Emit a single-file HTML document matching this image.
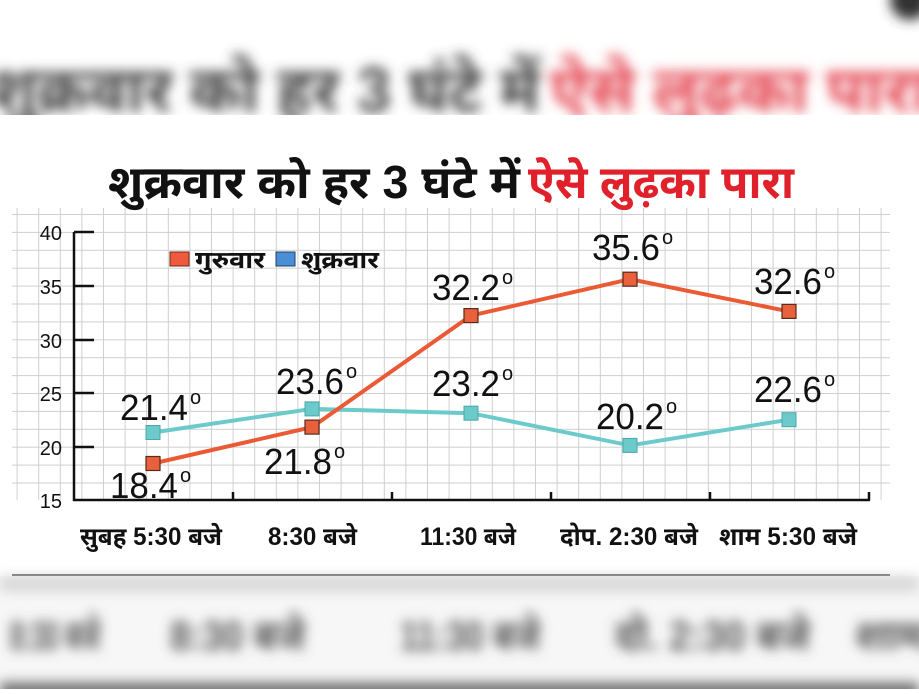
<!DOCTYPE html>
<html><head><meta charset="utf-8"><style>
body{margin:0;width:919px;height:689px;overflow:hidden;background:#fff;font-family:"Liberation Sans","Noto Sans Devanagari","Lohit Devanagari",sans-serif}
</style></head><body>
<svg width="919" height="689" viewBox="0 0 919 689" xmlns="http://www.w3.org/2000/svg">
<defs>
<filter id="bl"><feGaussianBlur stdDeviation="6"/></filter>
<pattern id="gv" x="16.6" y="0" width="21.6" height="2000" patternUnits="userSpaceOnUse"><line x1="0.5" y1="0" x2="0.5" y2="2000" stroke="#cfcfcf" stroke-width="1"/></pattern>
<pattern id="gh" x="0" y="214" width="2000" height="17.9" patternUnits="userSpaceOnUse"><line x1="0" y1="0.5" x2="2000" y2="0.5" stroke="#cfcfcf" stroke-width="1"/></pattern>
</defs>
<!-- top blurred band -->
<g filter="url(#bl)">
<text x="-10" y="112" font-size="64" font-weight="bold" fill="#444" textLength="550" lengthAdjust="spacingAndGlyphs">शुक्रवार को हर 3 घंटे में</text>
<text x="550" y="112" font-size="64" font-weight="bold" fill="#e44a55" textLength="380" lengthAdjust="spacingAndGlyphs">ऐसे लुढ़का पारा</text>
<circle cx="910" cy="0" r="20" fill="#333"/>
</g>
<rect x="0" y="115" width="919" height="460" fill="#fff"/>
<!-- grid -->
<rect x="12" y="208" width="878" height="292" fill="url(#gv)"/>
<rect x="12" y="208" width="878" height="292" fill="url(#gh)"/>
<!-- title -->
<text x="108" y="198" font-size="46" font-weight="bold" fill="#111" textLength="412" lengthAdjust="spacingAndGlyphs">शुक्रवार को हर 3 घंटे में</text>
<text x="528" y="198" font-size="46" font-weight="bold" fill="#e0202a" textLength="266" lengthAdjust="spacingAndGlyphs">ऐसे लुढ़का पारा</text>
<!-- axes -->
<g stroke="#111" stroke-width="2.5" fill="none">
<line x1="74" y1="232" x2="74" y2="501"/>
<line x1="73" y1="500" x2="870" y2="500"/>
<line x1="74" y1="232" x2="94" y2="232"/>
<line x1="74" y1="286" x2="94" y2="286"/>
<line x1="74" y1="340" x2="94" y2="340"/>
<line x1="74" y1="393" x2="94" y2="393"/>
<line x1="74" y1="447" x2="94" y2="447"/>
<line x1="233" y1="500" x2="233" y2="492"/>
<line x1="392" y1="500" x2="392" y2="492"/>
<line x1="551" y1="500" x2="551" y2="492"/>
<line x1="710" y1="500" x2="710" y2="492"/>
<line x1="869" y1="500" x2="869" y2="492"/>
</g>
<g font-size="20" fill="#111" text-anchor="end">
<text x="62" y="240">40</text><text x="62" y="294">35</text><text x="62" y="348">30</text>
<text x="62" y="401">25</text><text x="62" y="455">20</text><text x="62" y="508">15</text>
</g>
<!-- legend -->
<rect x="170" y="252" width="19" height="14" fill="#f05a3c" stroke="#6b2a1a"/>
<text x="195" y="268" font-size="24" font-weight="bold" fill="#111" textLength="70" lengthAdjust="spacingAndGlyphs">गुरुवार</text>
<rect x="276" y="252" width="19" height="14" fill="#4a8fd6" stroke="#1e3f6a"/>
<text x="301" y="268" font-size="24" font-weight="bold" fill="#111" textLength="78" lengthAdjust="spacingAndGlyphs">शुक्रवार</text>
<!-- series -->
<polyline points="153,432.5 312,408.9 471,413.2 630,445.4 789,419.7" fill="none" stroke="#6ccaca" stroke-width="4"/>
<polyline points="153,463.5 312,427.1 471,315.6 630,279.2 789,311.4" fill="none" stroke="#ea5a35" stroke-width="4"/>
<g fill="#6ccaca" stroke="#4aa8a8" stroke-width="1">
<rect x="146" y="425.5" width="14" height="14"/><rect x="305" y="401.9" width="14" height="14"/>
<rect x="464" y="406.2" width="14" height="14"/><rect x="623" y="438.4" width="14" height="14"/>
<rect x="782" y="412.7" width="14" height="14"/>
</g>
<g fill="#e8603c" stroke="#5a2a1a" stroke-width="1.2">
<rect x="146" y="456.5" width="14" height="14"/><rect x="305" y="420.1" width="14" height="14"/>
<rect x="464" y="308.6" width="14" height="14"/><rect x="623" y="272.2" width="14" height="14"/>
<rect x="782" y="304.4" width="14" height="14"/>
</g>
<g font-size="36" fill="#111">
<text x="120" y="420" textLength="68" lengthAdjust="spacingAndGlyphs">21.4</text><text x="190" y="404" font-size="20">o</text>
<text x="276" y="394" textLength="68" lengthAdjust="spacingAndGlyphs">23.6</text><text x="346" y="378" font-size="20">o</text>
<text x="432" y="396" textLength="68" lengthAdjust="spacingAndGlyphs">23.2</text><text x="502" y="380" font-size="20">o</text>
<text x="596" y="429" textLength="68" lengthAdjust="spacingAndGlyphs">20.2</text><text x="666" y="413" font-size="20">o</text>
<text x="754" y="402" textLength="68" lengthAdjust="spacingAndGlyphs">22.6</text><text x="824" y="386" font-size="20">o</text>
<text x="110" y="498" textLength="68" lengthAdjust="spacingAndGlyphs">18.4</text><text x="180" y="482" font-size="20">o</text>
<text x="264" y="474" textLength="68" lengthAdjust="spacingAndGlyphs">21.8</text><text x="334" y="458" font-size="20">o</text>
<text x="432" y="300" textLength="68" lengthAdjust="spacingAndGlyphs">32.2</text><text x="502" y="284" font-size="20">o</text>
<text x="592" y="260" textLength="68" lengthAdjust="spacingAndGlyphs">35.6</text><text x="662" y="244" font-size="20">o</text>
<text x="754" y="294" textLength="68" lengthAdjust="spacingAndGlyphs">32.6</text><text x="824" y="278" font-size="20">o</text>
</g>
<g font-size="25" font-weight="bold" fill="#111">
<text x="80" y="545" textLength="142" lengthAdjust="spacingAndGlyphs">सुबह 5:30 बजे</text>
<text x="268" y="545" textLength="89" lengthAdjust="spacingAndGlyphs">8:30 बजे</text>
<text x="420" y="545" textLength="96" lengthAdjust="spacingAndGlyphs">11:30 बजे</text>
<text x="560" y="545" textLength="138" lengthAdjust="spacingAndGlyphs">दोप. 2:30 बजे</text>
<text x="719" y="545" textLength="138" lengthAdjust="spacingAndGlyphs">शाम 5:30 बजे</text>
</g>
<line x1="12" y1="575" x2="890" y2="575" stroke="#111" stroke-width="1.5"/>
<!-- bottom blurred band -->
<rect x="0" y="576" width="919" height="113" fill="#f7f7f7"/>
<g filter="url(#bl)">
<rect x="0" y="576" width="919" height="16" fill="#d8d8d8"/>
<text x="10" y="650" font-size="42" font-weight="bold" fill="#555" textLength="90" lengthAdjust="spacingAndGlyphs">8:30 बजे</text>
<text x="170" y="650" font-size="42" font-weight="bold" fill="#555" textLength="135" lengthAdjust="spacingAndGlyphs">8:30 बजे</text>
<text x="400" y="650" font-size="42" font-weight="bold" fill="#555" textLength="140" lengthAdjust="spacingAndGlyphs">11:30 बजे</text>
<text x="615" y="650" font-size="42" font-weight="bold" fill="#555" textLength="195" lengthAdjust="spacingAndGlyphs">दो. 2:30 बजे</text>
<text x="855" y="650" font-size="42" font-weight="bold" fill="#555">शाम</text>
<rect x="0" y="682" width="919" height="20" fill="#777"/>
</g>
</svg>
</body></html>
